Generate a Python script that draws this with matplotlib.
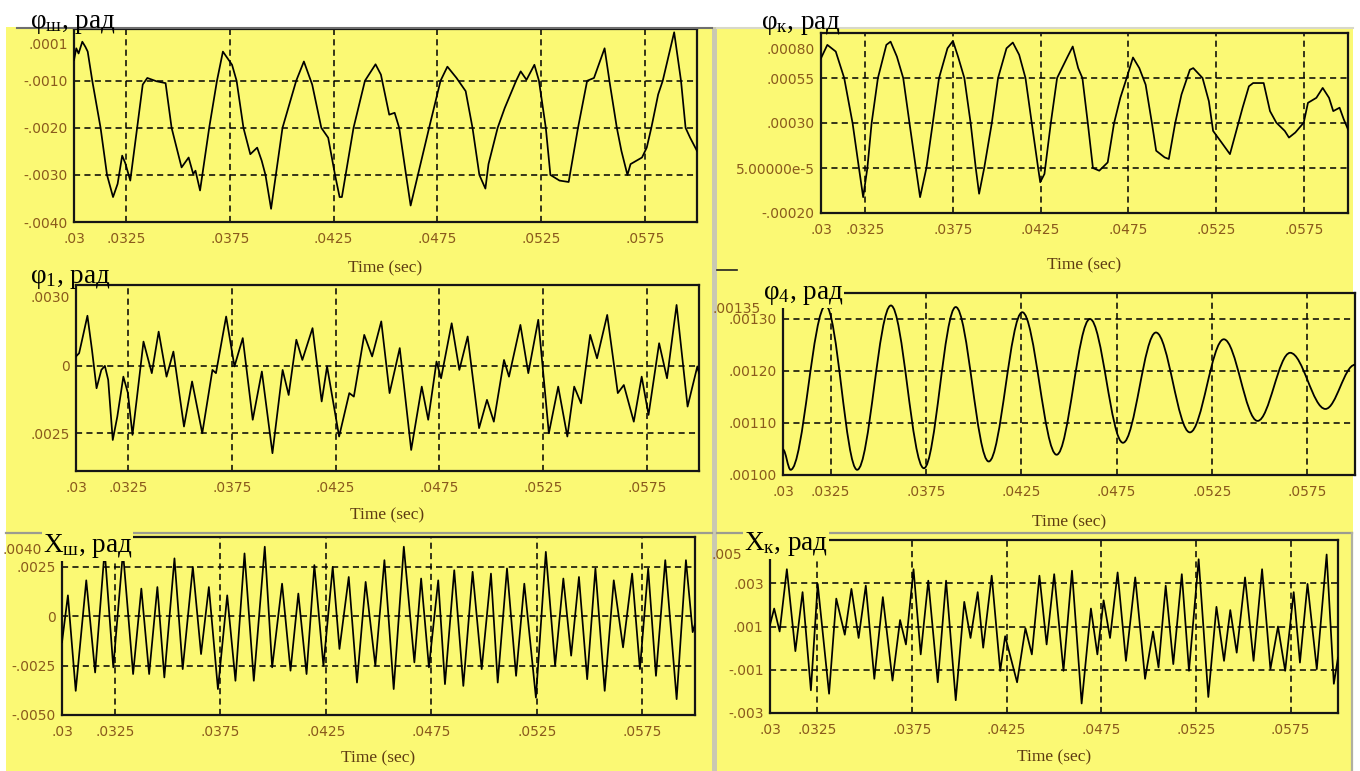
import numpy as np
import matplotlib
matplotlib.use("Agg")
import matplotlib.pyplot as plt
from matplotlib.patches import Rectangle, PathPatch
from matplotlib.path import Path
from matplotlib.lines import Line2D

plt.rcParams['mathtext.fontset'] = 'custom'
plt.rcParams['mathtext.rm'] = 'Liberation Serif'
plt.rcParams['mathtext.it'] = 'Liberation Serif:italic'
plt.rcParams['mathtext.bf'] = 'Liberation Serif:bold'

# ------------------------------------------------------------------ data
x_ticks = [0.03, 0.0325, 0.0375, 0.0425, 0.0475, 0.0525, 0.0575]
x_tick_labels = ['.03', '.0325', '.0375', '.0425', '.0475', '.0525', '.0575']

# phi_sh : time in ms, value in 1e-3 rad
phi_sh_t = [30.00, 30.11, 30.22, 30.40, 30.55, 30.66, 30.88, 31.28, 31.59, 31.88, 32.10, 32.32, 32.47, 32.71,
            33.04, 33.31, 33.53, 33.97, 34.41, 34.70, 35.18, 35.52, 35.74, 35.85, 36.07, 36.51, 36.88, 37.17,
            37.61, 37.83, 38.16, 38.49, 38.82, 39.04, 39.22, 39.49, 40.04, 40.70, 41.07, 41.47, 41.91, 42.24,
            42.57, 42.79, 42.90, 43.46, 44.01, 44.52, 44.78, 45.18, 45.44, 45.66, 45.99, 46.21, 47.10, 47.65,
            47.98, 48.42, 48.86, 49.19, 49.52, 49.81, 49.96, 50.40, 50.74, 51.29, 51.51, 51.79, 52.17, 52.39,
            52.72, 52.94, 53.38, 53.82, 54.27, 54.71, 55.04, 55.55, 55.81, 56.14, 56.36, 56.65, 56.80, 57.35,
            57.58, 57.80, 58.13, 58.35, 58.90, 59.23, 59.45, 59.67, 60.00]
phi_sh_v = [-0.56, -0.31, -0.42, -0.17, -0.28, -0.38, -1.00, -2.00, -3.00, -3.47, -3.19, -2.59, -2.75, -3.12,
            -2.00, -1.08, -0.94, -1.01, -1.05, -2.00, -2.84, -2.63, -2.98, -2.91, -3.33, -2.00, -1.01, -0.38,
            -0.66, -1.00, -2.00, -2.56, -2.42, -2.70, -3.00, -3.72, -2.00, -1.00, -0.59, -1.08, -2.00, -2.21,
            -3.00, -3.47, -3.47, -2.00, -1.00, -0.65, -0.87, -1.72, -1.68, -2.00, -3.00, -3.65, -2.00, -1.00,
            -0.70, -0.94, -1.22, -2.00, -3.00, -3.29, -2.77, -2.00, -1.58, -1.00, -0.80, -0.98, -0.66, -1.00,
            -2.00, -3.00, -3.12, -3.15, -2.00, -1.00, -0.94, -0.31, -1.08, -2.00, -2.49, -3.00, -2.77, -2.63,
            -2.42, -2.00, -1.29, -1.00, 0.03, -1.00, -2.00, -2.21, -2.49]

# phi_k : time in ms, value in 1e-4 rad
phi_k_t = [30.00, 30.36, 30.84, 31.32, 31.80, 32.16, 32.40, 32.64, 32.88, 33.24,
           33.72, 33.96, 34.32, 34.68, 35.04, 35.40, 35.64, 36.00, 36.36, 36.72,
           37.20, 37.51, 37.80, 38.16, 38.52, 38.81, 39.00, 39.29, 39.72, 40.08,
           40.56, 40.92, 41.28, 41.64, 42.00, 42.36, 42.48, 42.72, 43.08, 43.44,
           44.04, 44.33, 44.64, 44.88, 45.19, 45.48, 45.84, 46.32, 46.68, 47.04,
           47.40, 47.76, 48.12, 48.48, 48.84, 49.08, 49.56, 49.80, 50.16, 50.52,
           51.00, 51.19, 51.72, 52.08, 52.32, 52.80, 53.28, 53.64, 54.00,
           54.36, 54.60, 55.20, 55.56, 55.92, 56.40, 56.64, 57.00, 57.48,
           57.72, 58.20, 58.56, 58.92, 59.16, 59.52, 59.76, 60.00]
phi_k_v = [6.60, 7.34, 6.97, 5.50, 2.98, 0.50, -1.12, 0.50, 2.98, 5.50,
           7.34, 7.52, 6.69, 5.50, 2.98, 0.50, -1.12, 0.50, 2.98, 5.50,
           7.15, 7.56, 6.69, 5.50, 2.98, 0.50, -0.93, 0.50, 2.98, 5.50,
           7.15, 7.47, 6.79, 5.50, 2.98, 0.50, -0.29, 0.17, 2.98, 5.50,
           6.69, 7.25, 6.05, 5.50, 2.98, 0.50, 0.35, 0.81, 2.98, 4.40,
           5.50, 6.64, 6.05, 5.13, 2.98, 1.46, 1.09, 1.00, 2.98, 4.58,
           5.96, 6.05, 5.50, 4.21, 2.56, 1.92, 1.27, 2.56, 3.85,
           5.04, 5.22, 5.22, 3.66, 3.02, 2.56, 2.19, 2.47, 3.02,
           4.12, 4.40, 4.95, 4.40, 3.66, 3.85, 3.20, 2.65]

# phi_1 : time in ms, value in 1e-3 rad
phi_1_t = [30.00, 30.15, 30.33, 30.55, 30.77, 30.99, 31.22, 31.39, 31.55, 31.77, 31.99, 32.28, 32.50, 32.72,
           32.94, 33.25, 33.65, 33.98, 34.36, 34.69, 35.20, 35.59, 36.08, 36.57, 36.74, 37.23, 37.63, 38.03,
           38.51, 38.95, 39.46, 39.95, 40.24, 40.61, 40.90, 41.39, 41.83, 42.09, 42.67, 43.16, 43.38, 43.88,
           44.26, 44.70, 45.10, 45.59, 46.14, 46.65, 46.96, 47.36, 47.58, 48.09, 48.46, 48.86, 49.41, 49.79,
           50.12, 50.61, 50.85, 51.40, 51.78, 52.26, 52.77, 53.22, 53.66, 53.99, 54.32, 54.76, 55.09, 55.58,
           56.09, 56.38, 56.86, 57.24, 57.57, 58.08, 58.46, 58.92, 59.45, 59.92, 60.00]
phi_1_v = [0.35, 0.47, 1.09, 1.86, 0.59, -0.83, -0.15, 0.00, -0.52, -2.75, -1.88, -0.40, -1.01, -2.56,
           -1.14, 0.90, -0.27, 1.27, -0.40, 0.53, -2.25, -0.58, -2.50, -0.15, -0.27, 1.83, -0.02, 1.03,
           -2.00, -0.21, -3.24, -0.15, -1.08, 0.97, 0.22, 1.40, -1.32, -0.02, -2.62, -1.01, -1.14, 1.15,
           0.35, 1.65, -1.01, 0.66, -3.12, -0.77, -2.00, 0.16, -0.46, 1.58, -0.15, 1.09, -2.31, -1.26,
           -2.07, 0.22, -0.40, 1.52, -0.27, 1.71, -2.50, -0.77, -2.62, -0.77, -1.39, 1.15, 0.28, 1.89,
           -1.01, -0.71, -2.07, -0.40, -1.82, 0.84, -0.46, 2.26, -1.51, -0.02, -0.27]

# phi_4 : time in ms, value in 1e-4 rad (turning points)
phi_4_t = [30.00, 30.40, 32.24, 33.89, 35.66, 37.39, 39.06, 40.79, 42.55, 44.35,
           46.10, 47.83, 49.56, 51.34, 53.12, 54.89, 56.60, 58.45, 60.00]
phi_4_v = [10.49, 10.10, 13.26, 10.10, 13.26, 10.13, 13.23, 10.26, 13.13, 10.39,
           13.00, 10.62, 12.74, 10.82, 12.61, 11.04, 12.35, 11.27, 12.12]

# x_sh : time in ms, value in 1e-3
x_sh_t = [30.00, 30.28, 30.65, 31.15, 31.57, 32.02, 32.43, 32.89, 33.37, 33.76, 34.13, 34.52, 34.85, 35.33,
          35.72, 36.20, 36.59, 36.96, 37.39, 37.83, 38.22, 38.65, 39.09, 39.61, 39.96, 40.43, 40.83, 41.20,
          41.59, 41.96, 42.39, 42.83, 43.15, 43.59, 43.98, 44.39, 44.85, 45.28, 45.72, 46.20, 46.70, 47.02,
          47.39, 47.83, 48.15, 48.59, 49.02, 49.46, 49.89, 50.33, 50.65, 51.09, 51.52, 51.91, 52.46, 52.93,
          53.37, 53.76, 54.13, 54.50, 54.89, 55.28, 55.72, 56.15, 56.59, 57.02, 57.39, 57.78, 58.15, 58.59,
          59.13, 59.57, 59.89, 60.00]
x_sh_v = [-1.32, 1.05, -3.78, 1.81, -2.85, 3.34, -2.59, 3.25, -2.93, 1.39, -2.93, 1.47, -3.10, 2.92,
          -2.68, 2.49, -1.92, 1.47, -3.69, 1.05, -3.27, 3.17, -3.27, 3.51, -2.59, 1.64, -2.76, 1.14,
          -2.93, 2.58, -2.51, 2.49, -1.66, 1.98, -3.36, 1.73, -2.51, 2.83, -3.69, 3.51, -2.34, 1.90,
          -2.59, 1.81, -3.44, 2.32, -3.53, 2.24, -2.68, 2.15, -3.36, 2.41, -3.02, 1.64, -4.12, 3.25,
          -2.51, 1.90, -2.00, 1.98, -3.19, 2.41, -3.78, 1.81, -1.58, 2.15, -2.68, 2.41, -3.02, 2.83,
          -4.20, 2.83, -0.81, -0.40]

# x_k : time in ms, value in 1e-3
x_k_t = [30.00, 30.22, 30.51, 30.89, 31.34, 31.72, 32.16, 32.52, 33.12, 33.50, 33.95, 34.30, 34.68, 35.06,
         35.51, 35.96, 36.47, 36.87, 37.18, 37.58, 37.96, 38.36, 38.86, 39.30, 39.81, 40.26, 40.59, 40.97,
         41.26, 41.71, 42.16, 42.42, 43.05, 43.49, 43.83, 44.23, 44.61, 45.01, 45.50, 45.95, 46.46, 46.95,
         47.29, 47.62, 47.96, 48.36, 48.80, 49.29, 49.81, 50.23, 50.52, 50.90, 51.30, 51.75, 52.13, 52.64,
         53.15, 53.58, 53.98, 54.31, 54.65, 55.09, 55.54, 55.99, 56.43, 56.83, 57.21, 57.66, 57.99, 58.39,
         58.88, 59.40, 59.78, 60.00]
x_k_v = [1.08, 1.83, 0.77, 3.65, -0.14, 2.59, -1.95, 2.97, -2.11, 2.29, 0.62, 2.74, 0.47, 2.89,
         -1.42, 2.36, -1.50, 1.30, 0.17, 3.65, -0.29, 3.12, -1.58, 3.12, -2.41, 2.14, 0.47, 2.59,
         0.02, 3.35, -1.05, 0.55, -1.58, 0.92, -0.29, 3.35, 0.17, 3.42, -1.05, 3.58, -2.56, 1.83,
         -0.29, 2.21, 0.47, 3.50, -0.59, 3.27, -1.42, 0.77, -0.89, 2.89, -0.74, 3.42, -1.05, 4.11,
         -2.26, 1.91, -0.59, 1.76, -0.21, 3.27, -0.59, 3.65, -0.97, 1.00, -1.05, 2.59, -0.67, 2.97,
         -0.97, 4.33, -1.65, -0.44]

# ------------------------------------------------------------------ figure
W, H = 1360, 771
fig = plt.figure(figsize=(W / 100, H / 100), dpi=100, facecolor='white')

YEL = '#fbf974'
BROWN = '#8a5a1c'
LBROWN = '#5e3c12'


def rect(x0, y0, x1, y1):
    return [x0 / W, 1 - y1 / H, (x1 - x0) / W, (y1 - y0) / H]


def fig_rect(x0, y0, x1, y1, color, z=0):
    fig.add_artist(Rectangle((x0 / W, 1 - y1 / H), (x1 - x0) / W, (y1 - y0) / H,
                             transform=fig.transFigure, facecolor=color,
                             edgecolor='none', zorder=z))


def fig_line(x0, y0, x1, y1, color, lw):
    fig.add_artist(Line2D([x0 / W, x1 / W], [1 - y0 / H, 1 - y1 / H],
                          transform=fig.transFigure, color=color, lw=lw, zorder=0.5))


# window backgrounds
fig_rect(6, 27, 712, 771, YEL)
fig_rect(717, 27, 1353, 771, YEL)
fig_rect(712, 27, 717, 771, '#c9c8b2')
fig_line(17, 28, 712, 28, '#6f6f6f', 1.5)
fig_line(717, 28, 1353, 28, '#d8d8c8', 1.5)
fig_line(6, 533, 712, 533, '#9c9c90', 1.6)
fig_line(717, 533, 1352, 533, '#9c9c90', 1.6)
fig_line(1352, 533, 1352, 771, '#b0b0a0', 1.6)
fig_line(717, 270, 737, 270, '#222222', 1.2)


def bezier_path(ts, vs, k=0.36):
    verts = [(ts[0], vs[0])]
    codes = [Path.MOVETO]
    for i in range(len(ts) - 1):
        x0, y0, x1, y1 = ts[i], vs[i], ts[i + 1], vs[i + 1]
        dx = x1 - x0
        verts += [(x0 + k * dx, y0), (x1 - k * dx, y1), (x1, y1)]
        codes += [Path.CURVE4] * 3
    return Path(verts, codes)


panels = [
    dict(box=(74, 29, 697, 222), t=phi_sh_t, v=phi_sh_v, scale=1e-3, ylim=(-0.004, 0.0001),
         yt=[-0.004, -0.003, -0.002, -0.001], ytl=['-.0040', '-.0030', '-.0020', '-.0010'],
         top='.0001', top_dx=-6, top_off=16, xl_off=46, smooth=False),
    dict(box=(821, 33, 1348, 213), t=phi_k_t, v=phi_k_v, scale=1e-4, ylim=(-0.0002, 0.0008),
         yt=[-0.0002, 0.00005, 0.0003, 0.00055], ytl=['-.00020', '5.00000e-5', '.00030', '.00055'],
         top='.00080', top_dx=-6, top_off=17, xl_off=52, smooth=False),
    dict(box=(76, 285, 699, 471), t=phi_1_t, v=phi_1_v, scale=1e-3, ylim=(-0.0039, 0.003),
         yt=[-0.0025, 0.0], ytl=['.0025', '0'],
         top='.0030', top_dx=-6, top_off=13, xl_off=44, smooth=False),
    dict(box=(783, 293, 1355, 475), t=phi_4_t, v=phi_4_v, scale=1e-4, ylim=(0.001, 0.00135),
         yt=[0.001, 0.0011, 0.0012, 0.0013], ytl=['.00100', '.00110', '.00120', '.00130'],
         top='.00135', top_dx=-22, top_off=16, xl_off=47, smooth=True),
    dict(box=(62, 537, 695, 715), t=x_sh_t, v=x_sh_v, scale=1e-3, ylim=(-0.005, 0.004),
         yt=[-0.005, -0.0025, 0.0, 0.0025], ytl=['-.0050', '-.0025', '0', '.0025'],
         top='.0040', top_dx=-20, top_off=13, xl_off=43, smooth=False),
    dict(box=(770, 540, 1338, 713), t=x_k_t, v=x_k_v, scale=1e-3, ylim=(-0.003, 0.005),
         yt=[-0.003, -0.001, 0.001, 0.003], ytl=['-.003', '-.001', '.001', '.003'],
         top='.005', top_dx=-28, top_off=15, xl_off=44, smooth=False),
]

for p in panels:
    x0, y0, x1, y1 = p['box']
    ax = fig.add_axes(rect(x0, y0, x1, y1))
    ax.set_facecolor(YEL)
    t = np.asarray(p['t']) * 1e-3
    v = np.asarray(p['v']) * p['scale']
    if p['smooth']:
        ax.add_patch(PathPatch(bezier_path(t, v), fill=False, edgecolor='black', lw=1.3, zorder=3))
    else:
        ax.plot(t, v, color='black', lw=1.25, zorder=3)
    ax.set_xlim(0.03, 0.06)
    ax.set_ylim(*p['ylim'])
    ax.set_xticks(x_ticks)
    ax.set_xticklabels(x_tick_labels)
    ax.set_yticks(p['yt'])
    ax.set_yticklabels(p['ytl'])
    ax.tick_params(axis='both', length=0, labelsize=10, labelcolor=BROWN)
    ax.tick_params(axis='x', pad=7)
    ax.tick_params(axis='y', pad=4.5)
    ax.grid(True, color='black', linestyle=(0, (4.0, 2.8)), linewidth=1.1, zorder=1)
    ax.set_axisbelow(True)
    for s in ax.spines.values():
        s.set_linewidth(1.6)
        s.set_color('#151515')
    ax.annotate(p['top'], xy=(0, p['ylim'][1]), xycoords=('axes fraction', 'data'),
                xytext=(p['top_dx'], -p['top_off']), textcoords='offset pixels',
                ha='right', va='center', fontsize=10, color=BROWN, annotation_clip=False)
    ax.set_xlabel('Time (sec)', fontfamily='Liberation Serif', fontsize=12.5, color=LBROWN)
    ax.xaxis.set_label_coords(0.5, -p['xl_off'] / (y1 - y0))
    ax.xaxis.label.set_va('center')

# channel titles
titles = [
    (30, 28, r'$\mathrm{\varphi}_{\mathrm{ш}}$, рад', False),
    (761, 29, r'$\mathrm{\varphi}_{\mathrm{к}}$, рад', False),
    (30, 283, r'$\mathrm{\varphi}_{1}$, рад', False),
    (763, 299, r'$\mathrm{\varphi}_{4}$, рад', True),
    (43, 552, r'$\mathrm{X}_{\mathrm{ш}}$, рад', True),
    (744, 550, r'$\mathrm{X}_{\mathrm{к}}$, рад', True),
]
for x, y, s, bg in titles:
    kw = {}
    if bg:
        kw['bbox'] = dict(facecolor=YEL, edgecolor='none', pad=0.5)
    fig.text(x / W, 1 - y / H, s, fontfamily='Liberation Serif', fontsize=19.5,
             ha='left', va='baseline', color='black', zorder=10, **kw)

fig.savefig('out.png', dpi=100, facecolor='white')
